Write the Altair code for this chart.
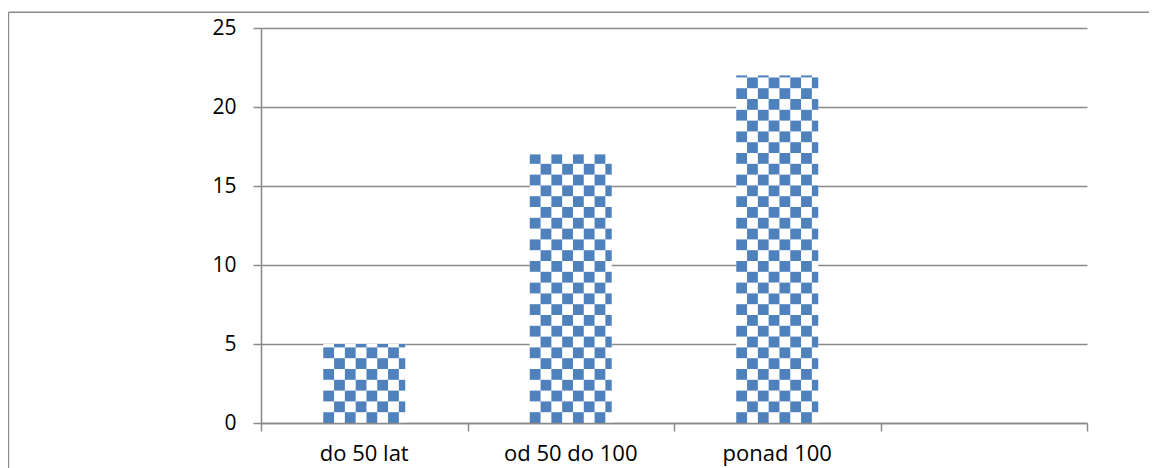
import altair as alt
import pandas as pd

# ---- data ----
categories = ["do 50 lat", "od 50 do 100", "ponad 100"]
values = [5, 17, 22]
n_slots = 4                      # the axis has a 4th, empty category slot
y_ticks = [0, 5, 10, 15, 20, 25]

df = pd.DataFrame({"cat": categories, "value": values, "idx": list(range(len(categories)))})

# ---- styling constants ----
BW = 0.397          # bar width as fraction of a category slot
CW = 0.0523         # checker cell width (slot units)
RH = 0.6835         # checker cell height (value units)
BLUE = "#4f81bd"
GRAY = "#898989"
FONT = "Open Sans"
FS = 21

W, H = 826, 395

xs = alt.Scale(domain=[0, n_slots], nice=False, zero=False)
ys = alt.Scale(domain=[0, 25], nice=False)

base = alt.Chart(df)

# white body of each bar (hides the grid behind it)
bars = base.transform_calculate(
    x1=f"datum.idx + 0.5 - {BW}/2",
    x2=f"datum.idx + 0.5 + {BW}/2",
).mark_rect(fill="white").encode(
    x=alt.X("x1:Q", scale=xs,
            axis=alt.Axis(values=list(range(n_slots + 1)), labels=False, title=None,
                          grid=False, domainColor=GRAY, domainWidth=1.5,
                          tickColor=GRAY, tickWidth=1.5, tickSize=8, zindex=1)),
    x2="x2:Q",
    y=alt.Y("value:Q", scale=ys,
            axis=alt.Axis(values=y_ticks, title=None, grid=True, gridColor=GRAY,
                          gridWidth=1.5, domainColor=GRAY, domainWidth=1.5,
                          tickColor=GRAY, tickWidth=1.5, tickSize=8,
                          labelFont=FONT, labelFontSize=FS, labelColor="black",
                          labelPadding=17)),
    y2=alt.datum(0),
)

# blue checker cells inside each bar
cells = base.transform_calculate(
    cols="sequence(0, 8)"
).transform_flatten(["cols"], as_=["j"]).transform_calculate(
    rows=f"sequence(0, ceil(datum.value / {RH}))"
).transform_flatten(["rows"], as_=["k"]).transform_filter(
    "(datum.j + datum.k) % 2 == 0"
).transform_calculate(
    left=f"datum.idx + 0.5 - {BW}/2",
    right=f"datum.idx + 0.5 + {BW}/2",
).transform_calculate(
    cx1=f"datum.left + datum.j * {CW}",
    cx2=f"min(datum.left + (datum.j + 1) * {CW}, datum.right)",
    cy1=f"datum.k * {RH}",
    cy2=f"min((datum.k + 1) * {RH}, datum.value)",
).transform_filter(
    "datum.cx1 < datum.right && datum.cy1 < datum.value"
).mark_rect(fill=BLUE).encode(
    x=alt.X("cx1:Q", scale=xs),
    x2="cx2:Q",
    y=alt.Y("cy1:Q", scale=ys),
    y2="cy2:Q",
)

# category labels centred in their slots
labels = base.transform_calculate(
    xc="datum.idx + 0.5"
).mark_text(font=FONT, fontSize=22, color="black", baseline="alphabetic",
            align="center").encode(
    x=alt.X("xc:Q", scale=xs),
    y=alt.value(H + 38),
    text="cat:N",
)

# outer chart frame (cropped in the reference)
one = alt.Chart(pd.DataFrame({"a": [0]}))
frame_top = one.mark_rule(color=GRAY, strokeWidth=1.4).encode(
    x=alt.value(-252.5), x2=alt.value(900), y=alt.value(-15.7))
frame_left = one.mark_rule(color=GRAY, strokeWidth=1.4).encode(
    x=alt.value(-252.5), y=alt.value(-15.7), y2=alt.value(450))

chart = alt.layer(bars, cells, labels, frame_top, frame_left).properties(
    width=W, height=H,
    padding={"left": 253, "top": 20, "right": 62, "bottom": 45},
    autosize=alt.AutoSizeParams(type="none"),
    background="white",
).configure_view(stroke=None)

chart.save("out.html", embed_options={"renderer": "svg", "actions": False})
